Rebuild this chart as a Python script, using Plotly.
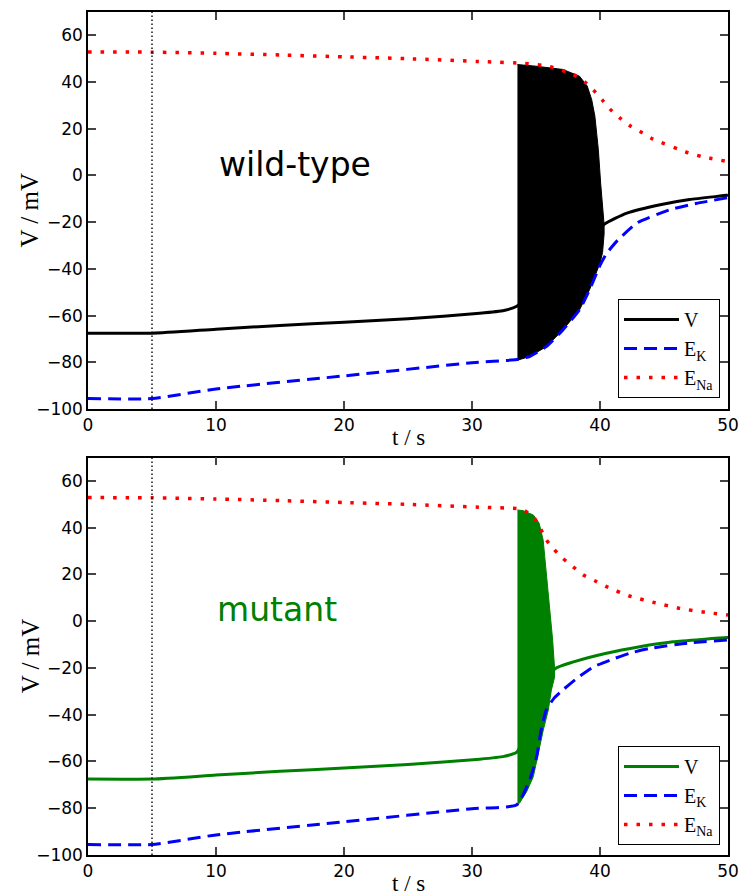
import plotly.graph_objects as go
from plotly.subplots import make_subplots

# ---------------- data ----------------
t_stim = 5

# wild-type
wt_V_t = [0, 5, 10, 15, 20, 25, 30.6, 32.5, 33.5, 40.3, 42.1, 44.7, 47, 49.9, 50]
wt_V = [-67.5, -67.5, -65.8, -64.2, -62.8, -61.3, -59, -57.8, -56, -21, -16.1, -12.5, -10.3, -8.5, -8.4]

wt_EK_t = [0, 5, 10, 20, 30, 33.5, 34.5, 35.8, 37.1, 38.4, 39.2, 40.0, 40.5, 41.3, 42.9, 45.5, 47.5, 50]
wt_EK = [-95.5, -95.5, -91.4, -85.8, -80.2, -78.8, -77.5, -73.3, -66.1, -57.5, -48.7, -38.5, -33.5, -28.2, -20.3, -14.6, -12, -9.5]

wt_ENa_t = [0, 5, 10, 15, 20, 25, 31, 34.1, 36.1, 37.9, 38.8, 39.5, 40.2, 40.8, 41.6, 42.4, 43.3, 44.1, 46.9, 47.9, 50]
wt_ENa = [52.9, 52.8, 52.3, 51.6, 50.8, 50.0, 48.7, 48.0, 46.6, 43.3, 40.1, 36.5, 32.2, 28.3, 24.4, 21.1, 18.3, 15.7, 9.7, 8.2, 5.9]

# envelope of the wild-type spiking burst
wt_burst_up_t = [33.55, 35.0, 37.1, 38.4, 39.0, 39.35, 39.6, 39.87, 40.05, 40.25, 40.32]
wt_burst_up = [47.5, 46.8, 45.4, 42.5, 38.3, 32.5, 25.4, 11.1, -3.2, -15, -21]
wt_burst_lo_t = [40.32, 40.2, 40.0, 39.2, 38.4, 37.1, 35.8, 34.5, 33.6, 33.55]
wt_burst_lo = [-25, -33, -37.5, -48.7, -57.5, -66.1, -73.3, -77.5, -79, -79]

# mutant
mu_V_t = [0, 5, 10, 15, 20, 25, 30.6, 32.5, 33.5, 36.45, 38.0, 40.5, 43.1, 45.7, 49.9, 50]
mu_V = [-67.5, -67.5, -65.8, -64.2, -62.8, -61.3, -59, -57.8, -56, -20.5, -17.3, -13.7, -10.9, -8.8, -7.0, -7.0]

mu_EK_t = [0, 5, 10, 20, 30, 33.5, 34.5, 35.05, 35.4, 35.8, 36.4, 37.1, 38.2, 39.5, 40.8, 42.3, 43.9, 46.8, 50]
mu_EK = [-95.5, -95.5, -91.4, -85.8, -80.2, -78.5, -67.9, -58, -46.5, -38, -33, -29.4, -24.4, -19.5, -16.6, -13.7, -11.6, -9.4, -8]

mu_ENa_t = [0, 5, 10, 15, 20, 25, 31, 33.5, 34.0, 34.8, 35.3, 35.78, 36.4, 37.1, 37.9, 38.7, 39.6, 40.5, 42.3, 44.3, 46.25, 48.2, 50]
mu_ENa = [52.9, 52.8, 52.3, 51.6, 50.8, 50.0, 48.7, 48.2, 47.6, 44.7, 40.2, 35, 30.8, 26.9, 23.3, 19.8, 17.3, 14.8, 10.8, 7.9, 5.5, 3.8, 2.7]

mu_burst_up_t = [33.55, 34.0, 34.8, 35.25, 35.56, 35.8, 36.1, 36.3, 36.45]
mu_burst_up = [47.6, 47.3, 45.4, 41.9, 34.7, 20.5, 6.2, -8, -20]
mu_burst_lo_t = [36.45, 36.2, 35.96, 35.57, 35.18, 34.79, 34.27, 33.7, 33.55]
mu_burst_lo = [-24, -29.4, -38, -46.5, -56.5, -66.5, -72.9, -77.9, -78.5]

x_ticks = [0, 10, 20, 30, 40, 50]
y_ticks = [-100, -80, -60, -40, -20, 0, 20, 40, 60]

# ---------------- figure ----------------
SERIF = "Liberation Serif"
SANS = "DejaVu Sans"
GREEN = "#008000"

fig = make_subplots(rows=2, cols=1, vertical_spacing=0.06)

def add_panel(row, vt, v, ekt, ek, nat, na, upt, up, lot, lo, color, legend):
    # burst (spiking) region as filled envelope
    fig.add_trace(go.Scatter(
        x=upt + lot, y=up + lo, mode="lines", fill="toself",
        fillcolor=color, line=dict(color=color, width=1),
        showlegend=False, hoverinfo="skip", legend=legend), row=row, col=1)
    fig.add_trace(go.Scatter(
        x=vt, y=v, mode="lines", name="V",
        line=dict(color=color, width=3, shape="spline", smoothing=0.5),
        legend=legend), row=row, col=1)
    fig.add_trace(go.Scatter(
        x=ekt, y=ek, mode="lines", name="E<sub>K</sub>",
        line=dict(color="blue", width=3, dash="13px,7px", shape="spline", smoothing=0.5),
        legend=legend), row=row, col=1)
    fig.add_trace(go.Scatter(
        x=nat, y=na, mode="lines", name="E<sub>Na</sub>",
        line=dict(color="red", width=3.5, dash="3.5px,9px", shape="spline", smoothing=0.5),
        legend=legend), row=row, col=1)

add_panel(1, wt_V_t, wt_V, wt_EK_t, wt_EK, wt_ENa_t, wt_ENa,
          wt_burst_up_t, wt_burst_up, wt_burst_lo_t, wt_burst_lo, "black", "legend")
add_panel(2, mu_V_t, mu_V, mu_EK_t, mu_EK, mu_ENa_t, mu_ENa,
          mu_burst_up_t, mu_burst_up, mu_burst_lo_t, mu_burst_lo, GREEN, "legend2")

for r in (1, 2):
    fig.add_vline(x=t_stim, line=dict(color="black", width=1.4, dash="1.5px,2.5px"), row=r, col=1)

axis_common = dict(
    showline=True, linecolor="black", linewidth=1.5, mirror="ticks",
    ticks="inside", ticklen=8, tickwidth=1.5, tickcolor="#444",
    showgrid=False, zeroline=False, automargin=False,
    tickfont=dict(family=SANS, size=17, color="black"),
)
for r, dom in ((1, [0.529, 1.0]), (2, [0.0, 0.4714])):
    fig.update_xaxes(range=[0, 50], tickvals=x_ticks, row=r, col=1, **axis_common)
    fig.update_yaxes(range=[-100, 70], tickvals=y_ticks, domain=dom, row=r, col=1, **axis_common)

# axis titles
for xr, yr in (("x", "y"), ("x2", "y2")):
    fig.add_annotation(x=0.5, y=0, xref=f"{xr} domain", yref=f"{yr} domain",
                       text="t / s", showarrow=False, yanchor="top", yshift=-14,
                       font=dict(family=SERIF, size=23, color="black"))
    fig.add_annotation(x=0, y=0.5, xref=f"{xr} domain", yref=f"{yr} domain",
                       text="V / mV", showarrow=False, textangle=-90,
                       xanchor="center", yanchor="middle", xshift=-58,
                       font=dict(family=SERIF, size=25, color="black"))

fig.add_annotation(x=16.2, y=4.7, xref="x", yref="y", text="wild-type", showarrow=False,
                   font=dict(family=SANS, size=33, color="black"))
fig.add_annotation(x=14.8, y=5.2, xref="x2", yref="y2", text="mutant", showarrow=False,
                   font=dict(family=SANS, size=33, color=GREEN))

legend_style = dict(bgcolor="white", bordercolor="black", borderwidth=1,
                    font=dict(family=SERIF, size=20, color="black"),
                    xanchor="right", yanchor="bottom", x=0.9875, tracegroupgap=0,
                    itemwidth=55)

fig.update_layout(
    width=739, height=895,
    margin=dict(l=88, r=11, t=12, b=40),
    paper_bgcolor="white", plot_bgcolor="white",
    legend=dict(y=0.542, **legend_style),
    legend2=dict(y=0.012, **legend_style),
)

fig.write_html("out.html", config={"displayModeBar": False},
               post_script="document.body.style.margin='0px';document.body.style.padding='0px';")
